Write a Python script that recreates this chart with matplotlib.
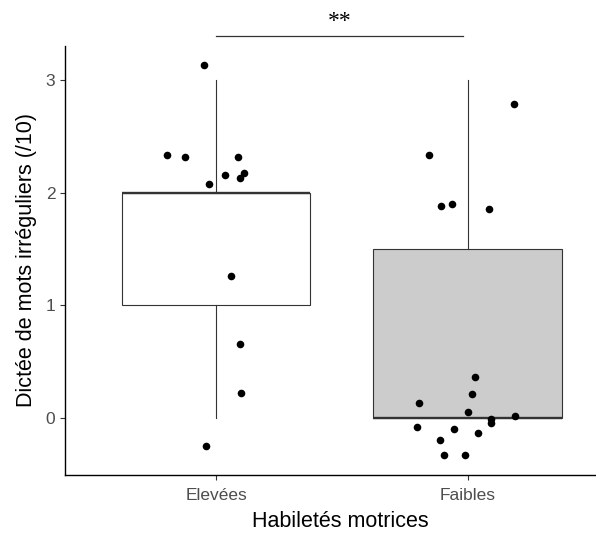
import numpy as np
import matplotlib
matplotlib.use("Agg")
import matplotlib.pyplot as plt

plt.rcParams['font.family'] = ['Liberation Sans', 'DejaVu Sans']

# groupes et scores bruts (dictée, /10)
groupes = ["Elevées", "Faibles"]
scores_elevees = [3, 2, 2, 2, 2, 2, 2, 2, 1, 1, 0, 0]
scores_faibles = [3, 2, 2, 2, 2, 0, 0, 0, 0, 0, 0, 0, 0, 0, 0, 0, 0, 0]

jit_x_elevees = [-0.048, -0.195, -0.124, 0.087, -0.029, 0.036, 0.094, 0.112, 0.058, 0.094, 0.099, -0.041]
jit_y_elevees = [0.13, 0.33, 0.315, 0.315, 0.08, 0.16, 0.13, 0.17, 0.26, -0.343, 0.22, -0.25]
jit_x_faibles = [0.183, -0.152, -0.106, -0.064, 0.083, 0.029, 0.018, -0.195, 0.0, 0.094, 0.094,
                 0.189, -0.20, -0.053, 0.042, -0.111, -0.094, -0.012]
jit_y_faibles = [-0.21, 0.33, -0.123, -0.105, -0.147, 0.364, 0.208, 0.13, 0.05, -0.012, -0.048,
                 0.012, -0.08, -0.098, -0.136, -0.20, -0.33, -0.33]

couleurs_boites = ["white", "#CCCCCC"]
signif = "**"

fig = plt.figure(figsize=(5.96, 5.33), dpi=100)
ax = fig.add_axes([65 / 596, 1 - 474.7 / 533, 2.2 * 251.7 / 596, 429 / 533])

donnees = [scores_elevees, scores_faibles]
bp = ax.boxplot(donnees, positions=[1, 2], widths=0.75, whis=1.5, patch_artist=True,
                showfliers=False, showcaps=False,
                boxprops=dict(edgecolor="#333333", linewidth=0.8),
                whiskerprops=dict(color="#333333", linewidth=0.8),
                medianprops=dict(color="#333333", linewidth=1.7, solid_capstyle="butt"))
for patch, c in zip(bp["boxes"], couleurs_boites):
    patch.set_facecolor(c)

jx = [jit_x_elevees, jit_x_faibles]
jy = [jit_y_elevees, jit_y_faibles]
for i, sc in enumerate(donnees):
    x = (i + 1) + np.array(jx[i])
    y = np.array(sc) + np.array(jy[i])
    ax.scatter(x, y, s=30, color="black", zorder=5, linewidths=0)

# barre de significativité
ax.plot([1, 1.98], [3.39, 3.39], color="#333333", linewidth=0.9, clip_on=False)
ax.text(1.49, 3.43, signif, ha="center", va="bottom", fontsize=17,
        family=["Liberation Serif", "DejaVu Serif"], clip_on=False)

ax.set_xlim(0.4, 2.6)
ax.set_ylim(-0.506, 3.304)
ax.set_xticks([1, 2])
ax.set_xticklabels(groupes)
ax.set_yticks([0, 1, 2, 3])
ax.tick_params(colors="#333333", labelcolor="#4D4D4D", labelsize=12.5, length=3.5, width=0.8)
ax.tick_params(axis="x", pad=6)
for s in ["top", "right"]:
    ax.spines[s].set_visible(False)
for s in ["left", "bottom"]:
    ax.spines[s].set_linewidth(1.0)
    ax.spines[s].set_color("black")

ax.set_xlabel("Habiletés motrices", fontsize=15.5)
ax.set_ylabel("Dictée de mots irréguliers (/10)", fontsize=15.5, labelpad=6)
ax.xaxis.set_label_coords((340 - 65) / (2.2 * 251.7), -0.085)

fig.savefig("out.png", dpi=100)
